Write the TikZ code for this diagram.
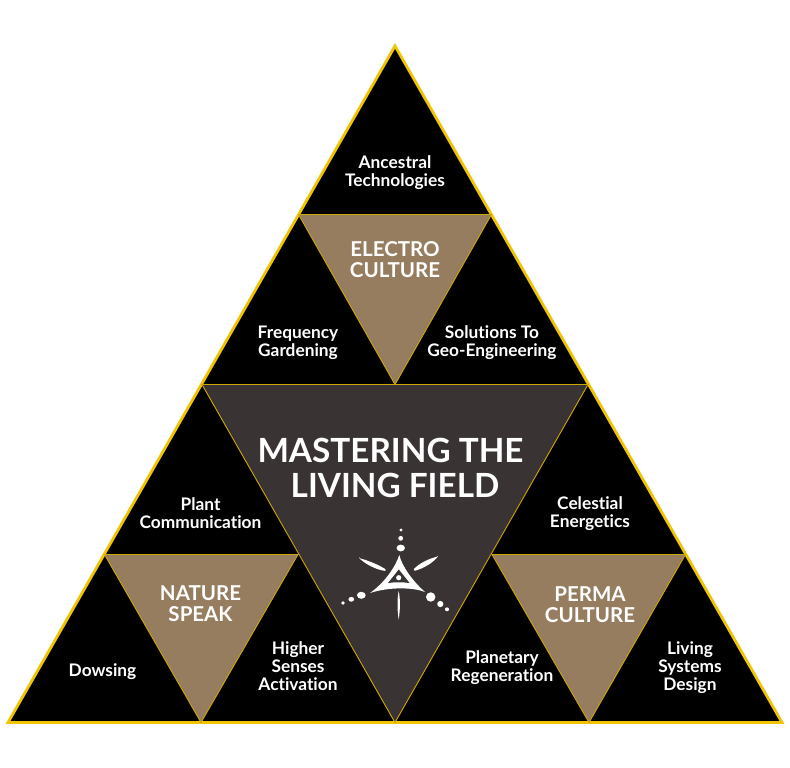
\documentclass[tikz,border=0pt]{standalone}
\usepackage{fontspec}
\setmainfont{Lato}[Ligatures=NoCommon,Contextuals=NoAlternate]
\definecolor{gold}{HTML}{F0C400}
\definecolor{tan}{HTML}{967D60}
\definecolor{dark}{HTML}{3A3333}
\tikzset{
  outer/.style={draw=gold,line width=2.8pt,line join=miter,fill=black},
  cell/.style={draw=gold!85!black,line width=0.9pt,line join=miter},
  lab/.style={text=white,align=center,font=\fontsize{17.3}{18}\selectfont\bfseries,inner sep=0pt},
  big/.style={text=white,align=center,font=\fontsize{20.5}{21}\selectfont\bfseries,inner sep=0pt},
  title/.style={text=white,align=center,font=\fontsize{33.3}{35}\selectfont\bfseries,inner sep=0pt},
  glyph/.style={fill=white,draw=none},
}
\begin{document}
\begin{tikzpicture}[x=1pt,y=-1pt]
\useasboundingbox (0,0) rectangle (790,768);
\coordinate (A) at (395,46);
\coordinate (L) at (8,722.5);
\coordinate (R) at (782,722.5);
\coordinate (b1) at (201,722.5);
\coordinate (b2) at (395,722.5);
\coordinate (b3) at (589,722.5);
\coordinate (l1) at (298.5,214.5);
\coordinate (r1) at (491.5,214.5);
\coordinate (l2) at (202,384.5);
\coordinate (m2) at (395,384.5);
\coordinate (r2) at (588,384.5);
\coordinate (l3) at (104.5,554.5);
\coordinate (r3) at (685.5,554.5);
\coordinate (m3a) at (298,554.5);
\coordinate (m3b) at (492,554.5);
\fill[white] (0,0) rectangle (790,768);
\draw[outer] (A) -- (R) -- (L) -- cycle;
\draw[cell,fill=tan] (l1) -- (r1) -- (m2) -- cycle;
\draw[cell,fill=tan] (l3) -- (m3a) -- (b1) -- cycle;
\draw[cell,fill=tan] (m3b) -- (r3) -- (b3) -- cycle;
\draw[cell,fill=dark] (l2) -- (r2) -- (b2) -- cycle;
% logo
\fill[glyph] (399.3,555) .. controls (402,566) and (412,580.5) .. (425,592)
  .. controls (414,587.5) and (390,586.5) .. (370,593)
  .. controls (384,583) and (395,568) .. (399.3,555) -- cycle;
\fill[dark] (398.8,569.5) -- (409.6,583) .. controls (402,582) and (395,582) .. (388,583) -- cycle;
\fill[glyph] (398.7,577.7) circle (2.6);
\fill[glyph] (401,530) circle (1.7);
\fill[glyph] (400.7,538.3) circle (2.4);
\fill[glyph] (400.7,548) ellipse (4.2 and 3.4);
\fill[glyph,rounded corners=1pt] (359,558) .. controls (368,560.5) and (378,564.5) .. (386,569.5) -- (385.5,571) .. controls (376,569.5) and (366,564.5) .. (359,558) -- cycle;
\fill[glyph,rounded corners=1pt] (438,556.5) .. controls (429,558.5) and (419,563.5) .. (413.5,569.5) -- (414,571) .. controls (423,568.5) and (432,563.5) .. (438,556.5) -- cycle;
\fill[glyph] (398.7,591) .. controls (400.6,600) and (400,611) .. (398.7,619.5) .. controls (397.4,611) and (396.8,600) .. (398.7,591) -- cycle;
\fill[glyph] (361.3,595.3) ellipse (4.4 and 3.5);
\fill[glyph] (351.3,599.3) ellipse (2.9 and 2.4);
\fill[glyph] (343,603) circle (1.8);
\fill[glyph] (430.7,597) circle (4.7);
\fill[glyph] (440.3,604) circle (3.1);
\fill[glyph] (447,609.3) circle (2);
% labels
\node[lab] (t1) at (395,173) {Ancestral\\Technologies};
\node[lab] (t2) at (298,343) {Frequency\\Gardening};
\node[lab] (t3) at (492,343) {Solutions To\\Geo-Engineering};
\node[lab] (t4) at (200.5,513) {Plant\\Communication};
\node[lab] (t5) at (590,514) {Celestial\\Energetics};
\node[lab] (t6) at (102.5,672) {Dowsing};
\node[lab] (t7) at (298,666) {Higher\\Senses\\Activation};
\node[lab] (t8) at (502,668) {Planetary\\Regeneration};
\node[lab] (t9) at (690,668) {Living\\Systems\\Design};
\node[big] (c1) at (395,259.5) {ELECTRO\\CULTURE};
\node[big] (c2) at (200.5,604) {NATURE\\SPEAK};
\node[big] (c3) at (590,604.5) {PERMA\\CULTURE};
\node[title] (main) at (390.5,468) {MASTERING THE\\\hspace*{9pt}LIVING FIELD};
\end{tikzpicture}
\end{document}
